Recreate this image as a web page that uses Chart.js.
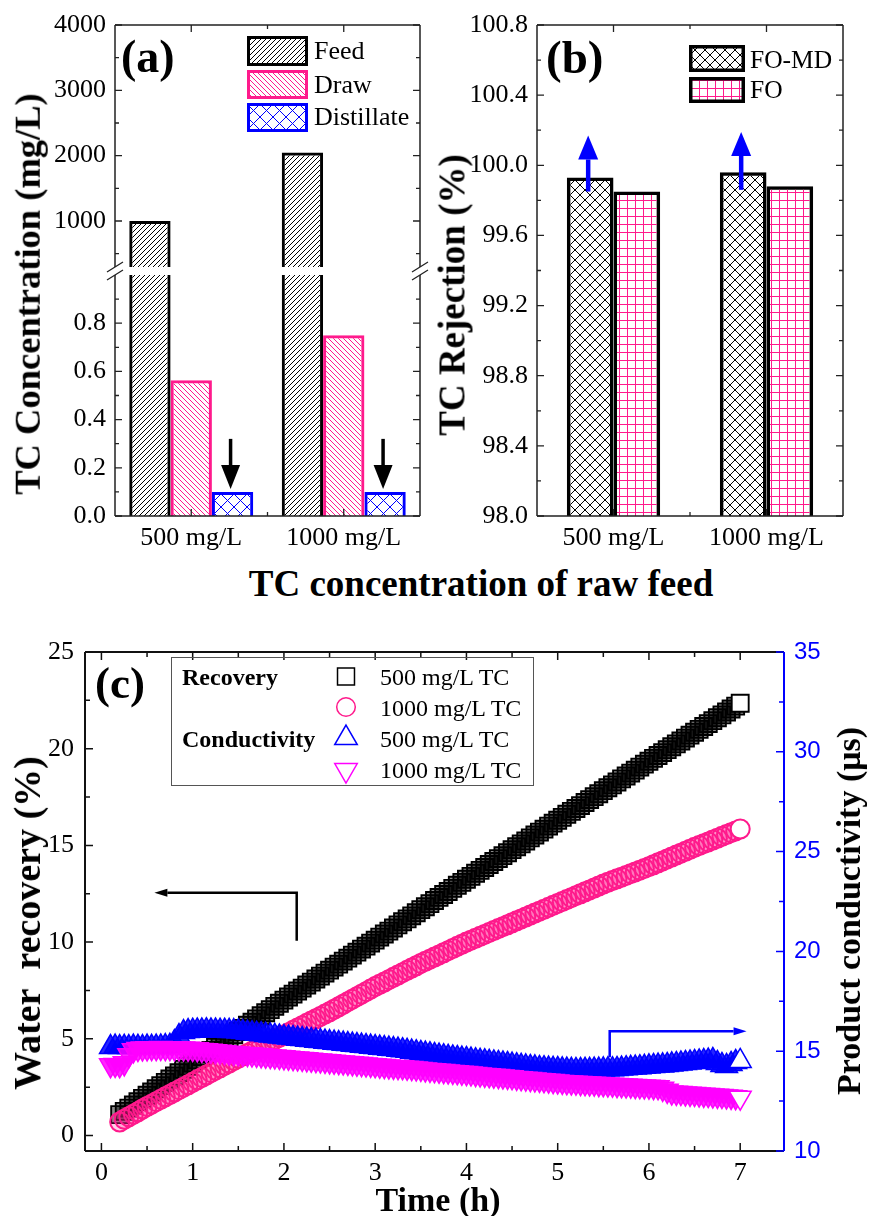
<!DOCTYPE html>
<html><head><meta charset="utf-8">
<script src="https://cdn.jsdelivr.net/npm/chart.js@4.4.1/dist/chart.umd.min.js"></script>
<style>
html,body{margin:0;padding:0;background:#fff;}
#page{position:relative;width:870px;height:1216px;overflow:hidden;background:#fff;}
canvas{position:absolute;}
.t{position:absolute;white-space:nowrap;line-height:1;font-family:'Liberation Serif','Times New Roman',serif;color:#000;}
.b{font-weight:bold;}
.L{transform:translateY(-50%);}
.C{transform:translate(-50%,-50%);}
.R{transform:translate(-50%,-50%) rotate(-90deg);}
</style></head><body><div id="page">
<canvas id="cA1" width="440" height="300" style="left:0;top:0;width:440px;height:300px"></canvas>
<canvas id="cA2" width="440" height="560" style="left:0;top:0;width:440px;height:560px"></canvas>
<canvas id="cB" width="435" height="560" style="left:435px;top:0;width:435px;height:560px"></canvas>
<canvas id="cC" width="870" height="596" style="left:0;top:620px;width:870px;height:596px"></canvas>

<div class="t b L" style="left:121px;top:57px;font-size:46px">(a)</div>
<div class="t b L" style="left:546px;top:57px;font-size:47px">(b)</div>
<div class="t b L" style="left:95px;top:683px;font-size:45px">(c)</div>

<div class="t L" style="left:314px;top:51px;font-size:26px">Feed</div>
<div class="t L" style="left:314px;top:85px;font-size:26px">Draw</div>
<div class="t L" style="left:314px;top:117px;font-size:26px">Distillate</div>
<div class="t L" style="left:750px;top:60px;font-size:25.5px">FO-MD</div>
<div class="t L" style="left:750px;top:90px;font-size:25.5px">FO</div>

<div class="t b C" style="left:481px;top:583px;font-size:37px">TC concentration of raw feed</div>
<div class="t b R" style="left:28px;top:294px;font-size:36.5px">TC Concentration (mg/L)</div>
<div class="t b R" style="left:452px;top:295px;font-size:37px">TC Rejection (%)</div>

<div style="position:absolute;left:171px;top:657px;width:363px;height:129px;box-sizing:border-box;border:1.5px solid #555;"></div>
<div class="t b L" style="left:182px;top:677px;font-size:24px">Recovery</div>
<div class="t b L" style="left:182px;top:739px;font-size:24px">Conductivity</div>
<div class="t L" style="left:380px;top:677px;font-size:24px">500 mg/L TC</div>
<div class="t L" style="left:380px;top:708px;font-size:24px">1000 mg/L TC</div>
<div class="t L" style="left:380px;top:739px;font-size:24px">500 mg/L TC</div>
<div class="t L" style="left:380px;top:770px;font-size:24px">1000 mg/L TC</div>

<div class="t b R" style="left:27px;top:923px;font-size:38px">Water&nbsp; recovery (%)</div>
<div class="t b R" style="left:849px;top:911px;font-size:34px">Product conductivity (μs)</div>
<div class="t b C" style="left:438px;top:1200px;font-size:34px">Time (h)</div>
</div>
<script>
// ---------- Panel (a) data ----------
const categories = ['500 mg/L', '1000 mg/L'];
const feed = [1000, 2050];
const drawConc = [0.563, 0.75];
const distillate = [0.1, 0.1];
const aUpperTicks = [1000, 2000, 3000, 4000];
const aUpperMinor = [500, 1500, 2500, 3500];
const aLowerTicks = [0, 0.2, 0.4, 0.6, 0.8];
const aLowerMinor = [0.1, 0.3, 0.5, 0.7, 0.9];
// ---------- Panel (b) data ----------
const foMd = [99.93, 99.96];
const fo = [99.85, 99.88];
const bTicks = [98.0, 98.4, 98.8, 99.2, 99.6, 100.0, 100.4, 100.8];
const bMinor = [98.2, 98.6, 99.0, 99.4, 99.8, 100.2, 100.6];
// ---------- Panel (c) data ----------
const timeH = [0.1,0.15,0.2,0.25,0.3,0.35,0.4,0.45,0.5,0.55,0.6,0.65,0.7,0.75,0.8,0.85,0.9,0.95,1.0,
1.05,1.1,1.15,1.2,1.25,1.3,1.35,1.4,1.45,1.5,1.55,1.6,1.65,1.7,1.75,1.8,1.85,1.9,1.95,2.0,
2.05,2.1,2.15,2.2,2.25,2.3,2.35,2.4,2.45,2.5,2.55,2.6,2.65,2.7,2.75,2.8,2.85,2.9,2.95,3.0,
3.05,3.1,3.15,3.2,3.25,3.3,3.35,3.4,3.45,3.5,3.55,3.6,3.65,3.7,3.75,3.8,3.85,3.9,3.95,4.0,
4.05,4.1,4.15,4.2,4.25,4.3,4.35,4.4,4.45,4.5,4.55,4.6,4.65,4.7,4.75,4.8,4.85,4.9,4.95,5.0,
5.05,5.1,5.15,5.2,5.25,5.3,5.35,5.4,5.45,5.5,5.55,5.6,5.65,5.7,5.75,5.8,5.85,5.9,5.95,6.0,
6.05,6.1,6.15,6.2,6.25,6.3,6.35,6.4,6.45,6.5,6.55,6.6,6.65,6.7,6.75,6.8,6.85,6.9,6.95,7.0];
const recovery500 = [null,null,1.08,1.25,1.42,1.58,1.75,1.92,2.08,2.25,2.42,2.58,2.75,2.92,3.08,3.25,3.42,3.58,3.75,
3.91,4.08,4.24,4.40,4.56,4.73,4.89,5.05,5.21,5.38,5.54,5.70,5.86,6.03,6.19,6.35,6.51,6.68,6.84,7.00,
7.16,7.31,7.47,7.62,7.78,7.93,8.09,8.24,8.40,8.55,8.71,8.86,9.02,9.17,9.33,9.48,9.64,9.79,9.95,10.10,
10.26,10.42,10.57,10.73,10.89,11.05,11.20,11.36,11.52,11.68,11.83,11.99,12.15,12.31,12.46,12.62,12.78,12.94,13.09,13.25,
13.40,13.56,13.71,13.86,14.01,14.17,14.32,14.47,14.62,14.78,14.93,15.08,15.23,15.39,15.54,15.69,15.84,16.00,16.15,16.30,
16.45,16.61,16.76,16.91,17.06,17.22,17.37,17.52,17.67,17.83,17.98,18.13,18.28,18.44,18.59,18.74,18.89,19.05,19.20,19.35,
19.50,19.65,19.80,19.95,20.10,20.25,20.40,20.55,20.70,20.85,21.00,21.15,21.30,21.45,21.60,21.75,21.90,22.05,22.20,22.35];
const recovery1000 = [null,null,0.70,0.84,0.97,1.10,1.23,1.37,1.50,1.62,1.75,1.87,2.00,2.12,2.25,2.37,2.50,2.62,2.75,
2.88,3.00,3.13,3.25,3.38,3.50,3.63,3.75,3.88,4.00,4.12,4.24,4.36,4.48,4.60,4.72,4.84,4.96,5.08,5.20,
5.32,5.44,5.56,5.68,5.80,5.92,6.04,6.16,6.28,6.40,6.53,6.66,6.79,6.92,7.05,7.18,7.31,7.44,7.57,7.70,
7.82,7.94,8.06,8.18,8.30,8.42,8.54,8.66,8.78,8.90,9.01,9.12,9.23,9.34,9.45,9.56,9.67,9.78,9.89,10.00,
10.10,10.20,10.30,10.40,10.50,10.60,10.70,10.80,10.90,11.00,11.10,11.20,11.30,11.40,11.50,11.60,11.70,11.80,11.90,12.00,
12.10,12.20,12.30,12.40,12.50,12.60,12.70,12.80,12.90,13.00,13.09,13.18,13.27,13.36,13.45,13.54,13.63,13.72,13.81,13.90,
14.00,14.10,14.20,14.30,14.40,14.50,14.60,14.70,14.80,14.90,14.99,15.09,15.18,15.28,15.37,15.47,15.56,15.66,15.75,15.85];
const cond500 = [15.20,15.22,15.20,15.21,15.20,15.22,15.21,15.20,15.22,15.21,15.22,15.23,15.25,15.26,15.45,15.75,15.95,16.00,16.02,
16.03,16.03,16.04,16.03,16.03,16.02,16.02,16.01,16.00,15.98,15.95,15.92,15.89,15.87,15.84,15.81,15.78,15.76,15.73,15.70,
15.68,15.65,15.62,15.60,15.57,15.55,15.52,15.50,15.47,15.45,15.42,15.40,15.37,15.35,15.32,15.30,15.27,15.25,15.22,15.20,
15.17,15.15,15.12,15.10,15.07,15.04,15.01,14.97,14.94,14.90,14.87,14.84,14.80,14.77,14.74,14.71,14.68,14.65,14.62,14.60,
14.57,14.54,14.51,14.49,14.46,14.43,14.40,14.38,14.35,14.32,14.29,14.26,14.23,14.20,14.18,14.15,14.14,14.12,14.11,14.10,
14.08,14.07,14.06,14.05,14.05,14.06,14.06,14.07,14.07,14.08,14.09,14.09,14.10,14.12,14.14,14.16,14.17,14.19,14.21,14.23,
14.25,14.27,14.28,14.30,14.33,14.35,14.38,14.40,14.43,14.45,14.48,14.50,14.52,14.55,14.40,14.30,14.25,14.35,14.45,14.50];
const cond1000 = [14.30,14.32,14.30,14.40,14.80,15.05,15.12,15.14,15.15,15.16,15.16,15.17,15.16,15.16,15.15,15.15,15.14,15.13,15.12,
15.10,15.07,15.05,15.03,15.00,14.98,14.96,14.93,14.91,14.89,14.87,14.86,14.84,14.82,14.80,14.78,14.76,14.74,14.72,14.70,
14.68,14.66,14.64,14.62,14.60,14.58,14.56,14.54,14.52,14.50,14.48,14.46,14.44,14.42,14.40,14.38,14.36,14.34,14.32,14.30,
14.28,14.26,14.24,14.22,14.21,14.20,14.18,14.16,14.14,14.12,14.09,14.07,14.05,14.03,14.01,13.99,13.97,13.95,13.93,13.91,
13.89,13.86,13.84,13.82,13.80,13.78,13.76,13.74,13.72,13.70,13.67,13.65,13.63,13.61,13.59,13.57,13.55,13.53,13.51,13.49,
13.47,13.45,13.44,13.43,13.41,13.40,13.39,13.38,13.36,13.35,13.34,13.33,13.31,13.30,13.29,13.28,13.26,13.25,13.24,13.23,
13.21,13.20,13.12,13.02,12.94,12.92,12.91,12.89,12.87,12.86,12.84,12.82,12.81,12.79,12.77,12.76,12.74,12.72,12.70,12.68];
const cXTicks = [0, 1, 2, 3, 4, 5, 6, 7];
const cXMinor = [0.5, 1.5, 2.5, 3.5, 4.5, 5.5, 6.5];
const cYTicks = [0, 5, 10, 15, 20, 25];
const cYMinor = [2.5, 7.5, 12.5, 17.5, 22.5];
const cY2Ticks = [10, 15, 20, 25, 30, 35];
const cY2Minor = [12.5, 17.5, 22.5, 27.5, 32.5];

// ---------- styles ----------
const SERIF = "'Liberation Serif','Times New Roman',serif";
const SANS = "'Liberation Sans',Arial,sans-serif";
const PINK = '#FF1A8C', MAGENTA = '#FF00FF', BLUE = '#0000FF', AX = '#222';

function makePattern(kind, color, s, lw) {
  const c = document.createElement('canvas'); c.width = s; c.height = s;
  const g = c.getContext('2d'); g.strokeStyle = color; g.lineWidth = lw;
  g.beginPath();
  if (kind === 'fwd' || kind === 'cross') { for (let k = -1; k <= 1; k++) { g.moveTo(k * s, s); g.lineTo(k * s + s, 0); } }
  if (kind === 'back' || kind === 'cross') { for (let k = -1; k <= 1; k++) { g.moveTo(k * s, 0); g.lineTo(k * s + s, s); } }
  if (kind === 'grid') { g.moveTo(0, 0.5); g.lineTo(s, 0.5); g.moveTo(0.5, 0); g.lineTo(0.5, s); }
  g.stroke();
  return g.createPattern(c, 'repeat');
}
const patFeed = makePattern('fwd', '#000', 5, 1);
const patDraw = makePattern('back', PINK, 5, 1);
const patDist = makePattern('cross', BLUE, 13, 1);
const patFoMd = makePattern('cross', '#000', 10, 1);
const patFo = makePattern('grid', PINK, 8, 1);

const fixedTicks = vals => s => { s.ticks = vals.map(v => ({ value: v })); };
const fixW = w => s => { s.width = w; };
const fixH = h => s => { s.height = h; };

function frame(ctx, a, sides, color, lw) {
  ctx.save(); ctx.strokeStyle = color; ctx.lineWidth = lw; ctx.beginPath();
  if (sides.includes('left')) { ctx.moveTo(a.left, a.top); ctx.lineTo(a.left, a.bottom); }
  if (sides.includes('right')) { ctx.moveTo(a.right, a.top); ctx.lineTo(a.right, a.bottom); }
  if (sides.includes('top')) { ctx.moveTo(a.left, a.top); ctx.lineTo(a.right, a.top); }
  if (sides.includes('bottom')) { ctx.moveTo(a.left, a.bottom); ctx.lineTo(a.right, a.bottom); }
  ctx.stroke(); ctx.restore();
}
function ticks(ctx, scale, vals, len, sides, color, lw) {
  const a = scale.chart.chartArea;
  ctx.save(); ctx.strokeStyle = color; ctx.lineWidth = lw || 1.3; ctx.beginPath();
  vals.forEach(v => {
    const p = scale.getPixelForValue(v);
    sides.forEach(sd => {
      if (sd === 'left') { ctx.moveTo(a.left, p); ctx.lineTo(a.left + len, p); }
      else if (sd === 'right') { ctx.moveTo(a.right, p); ctx.lineTo(a.right - len, p); }
      else if (sd === 'top') { ctx.moveTo(p, a.top); ctx.lineTo(p, a.top + len); }
      else { ctx.moveTo(p, a.bottom); ctx.lineTo(p, a.bottom - len); }
    });
  });
  ctx.stroke(); ctx.restore();
}
function arrow(ctx, pts, color, lw, headLen, headW) {
  ctx.save(); ctx.strokeStyle = color; ctx.fillStyle = color; ctx.lineWidth = lw;
  const n = pts.length, [x1, y1] = pts[n - 2], [x2, y2] = pts[n - 1];
  const ang = Math.atan2(y2 - y1, x2 - x1);
  const bx = x2 - headLen * Math.cos(ang), by = y2 - headLen * Math.sin(ang);
  ctx.beginPath(); ctx.moveTo(pts[0][0], pts[0][1]);
  for (let i = 1; i < n - 1; i++) ctx.lineTo(pts[i][0], pts[i][1]);
  ctx.lineTo(bx, by); ctx.stroke();
  ctx.beginPath(); ctx.moveTo(x2, y2);
  ctx.lineTo(bx + headW / 2 * Math.sin(ang), by - headW / 2 * Math.cos(ang));
  ctx.lineTo(bx - headW / 2 * Math.sin(ang), by + headW / 2 * Math.cos(ang));
  ctx.closePath(); ctx.fill(); ctx.restore();
}
function swatch(ctx, x, y, w, h, pat, border, bw) {
  ctx.save(); ctx.fillStyle = '#fff'; ctx.fillRect(x, y, w, h);
  ctx.fillStyle = pat; ctx.fillRect(x, y, w, h);
  ctx.strokeStyle = border; ctx.lineWidth = bw; ctx.strokeRect(x + bw / 2, y + bw / 2, w - bw, h - bw);
  ctx.restore();
}
const tickFont = { family: SERIF, size: 26 };
const baseOpts = { responsive: false, animation: false, events: [], plugins: { legend: { display: false }, tooltip: { enabled: false } } };
const hiddenGrid = { display: false, drawTicks: false };

// ---------- Panel (a) upper ----------
new Chart(document.getElementById('cA1'), {
  type: 'bar',
  data: { labels: categories, datasets: [
    { data: feed, backgroundColor: patFeed, borderColor: '#000', borderWidth: 3, clip: 0, categoryPercentage: 0.813, barPercentage: 1 },
    { data: drawConc, backgroundColor: patDraw, borderColor: PINK, borderWidth: 3, clip: 0, categoryPercentage: 0.813, barPercentage: 1 },
    { data: distillate, backgroundColor: patDist, borderColor: BLUE, borderWidth: 3, clip: 0, categoryPercentage: 0.813, barPercentage: 1 }] },
  options: Object.assign({}, baseOpts, {
    layout: { padding: { left: 15, top: 25, right: 20, bottom: 33 } },
    scales: {
      x: { display: false, offset: true },
      y: { min: 296, max: 4000, afterBuildTicks: fixedTicks(aUpperTicks), afterFit: fixW(100), grid: hiddenGrid, border: { display: false },
           ticks: { font: tickFont, color: '#000', padding: 9, callback: v => String(v) } }
    }
  }),
  plugins: [{ id: 'decoA1', afterDraw(chart) {
    const ctx = chart.ctx, a = chart.chartArea, x = chart.scales.x, y = chart.scales.y;
    frame(ctx, a, ['left', 'right', 'top'], AX, 1.5);
    ticks(ctx, y, aUpperTicks, 7, ['left', 'right'], AX);
    ticks(ctx, y, aUpperMinor, 4, ['left', 'right'], AX);
    ticks(ctx, x, [0, 1], 7, ['top'], AX);
    ticks(ctx, x, [0.5], 4, ['top'], AX);
    swatch(ctx, 247, 36, 61, 30, patFeed, '#000', 3);
    swatch(ctx, 247, 70, 61, 29, patDraw, PINK, 3);
    swatch(ctx, 247, 103, 61, 29, patDist, BLUE, 3);
  } }]
});

// ---------- Panel (a) lower ----------
new Chart(document.getElementById('cA2'), {
  type: 'bar',
  data: { labels: categories, datasets: [
    { data: feed, backgroundColor: patFeed, borderColor: '#000', borderWidth: 3, clip: 0, categoryPercentage: 0.813, barPercentage: 1 },
    { data: drawConc, backgroundColor: patDraw, borderColor: PINK, borderWidth: 3, clip: 0, categoryPercentage: 0.813, barPercentage: 1 },
    { data: distillate, backgroundColor: patDist, borderColor: BLUE, borderWidth: 3, clip: 0, categoryPercentage: 0.813, barPercentage: 1 }] },
  options: Object.assign({}, baseOpts, {
    layout: { padding: { left: 15, top: 275, right: 20, bottom: 4 } },
    scales: {
      x: { offset: true, afterFit: fixH(40), grid: hiddenGrid, border: { display: false }, ticks: { font: tickFont, color: '#000', padding: 7 } },
      y: { min: 0, max: 1.0, afterBuildTicks: fixedTicks(aLowerTicks), afterFit: fixW(100), grid: hiddenGrid, border: { display: false },
           ticks: { font: tickFont, color: '#000', padding: 9, callback: v => v.toFixed(1) } }
    }
  }),
  plugins: [{ id: 'decoA2', afterDraw(chart) {
    const ctx = chart.ctx, a = chart.chartArea, x = chart.scales.x, y = chart.scales.y;
    frame(ctx, a, ['left', 'right', 'bottom'], AX, 1.5);
    ticks(ctx, y, aLowerTicks, 7, ['left', 'right'], AX);
    ticks(ctx, y, aLowerMinor, 4, ['left', 'right'], AX);
    ticks(ctx, x, [0, 1], 7, ['bottom'], AX);
    ticks(ctx, x, [0.5], 4, ['bottom'], AX);
    ctx.save(); ctx.strokeStyle = AX; ctx.lineWidth = 1.3; ctx.beginPath();
    [a.left, a.right].forEach(x0 => [a.top - 8, a.top].forEach(y0 => { ctx.moveTo(x0 - 8, y0 + 5); ctx.lineTo(x0 + 8, y0 - 5); }));
    ctx.stroke(); ctx.restore();
    chart.getDatasetMeta(2).data.forEach(el => {
      arrow(ctx, [[el.x - 2, y.getPixelForValue(0.32)], [el.x - 2, y.getPixelForValue(0.112)]], '#000', 3.5, 24, 19);
    });
  } }]
});

// ---------- Panel (b) ----------
new Chart(document.getElementById('cB'), {
  type: 'bar',
  data: { labels: categories, datasets: [
    { data: foMd, backgroundColor: patFoMd, borderColor: '#000', borderWidth: 3.5, clip: 0, categoryPercentage: 0.61, barPercentage: 1 },
    { data: fo, backgroundColor: patFo, borderColor: '#000', borderWidth: 3.5, clip: 0, categoryPercentage: 0.61, barPercentage: 1 }] },
  options: Object.assign({}, baseOpts, {
    layout: { padding: { left: 12, top: 25, right: 27, bottom: 4 } },
    scales: {
      x: { offset: true, afterFit: fixH(40), grid: hiddenGrid, border: { display: false }, ticks: { font: tickFont, color: '#000', padding: 7 } },
      y: { min: 98.0, max: 100.8, afterBuildTicks: fixedTicks(bTicks), afterFit: fixW(90), grid: hiddenGrid, border: { display: false },
           ticks: { font: tickFont, color: '#000', padding: 9, callback: v => v.toFixed(1) } }
    }
  }),
  plugins: [{ id: 'decoB', afterDraw(chart) {
    const ctx = chart.ctx, a = chart.chartArea, x = chart.scales.x, y = chart.scales.y;
    frame(ctx, a, ['left', 'right', 'top', 'bottom'], AX, 1.5);
    ticks(ctx, y, bTicks, 7, ['left', 'right'], AX);
    ticks(ctx, y, bMinor, 4, ['left', 'right'], AX);
    ticks(ctx, x, [0, 1], 7, ['top', 'bottom'], AX);
    ticks(ctx, x, [0.5], 4, ['top', 'bottom'], AX);
    swatch(ctx, 254, 45, 56, 27, patFoMd, '#000', 3.5);
    swatch(ctx, 254, 77, 56, 26, patFo, '#000', 3.5);
    const arr = [[99.85, 100.17], [99.86, 100.19]];
    chart.getDatasetMeta(0).data.forEach((el, i) => {
      arrow(ctx, [[el.x - 2, y.getPixelForValue(arr[i][0])], [el.x - 2, y.getPixelForValue(arr[i][1])]], BLUE, 4.5, 24, 20);
    });
  } }]
});

// ---------- Panel (c) ----------
function pts(vals) { return timeH.map((t, i) => ({ x: t, y: vals[i] })).filter(p => p.y !== null); }
function series(vals, axis, style, rot, r, color, fill, bw, order) {
  const d = pts(vals), n = d.length;
  return { data: d, yAxisID: axis, pointStyle: style, pointRotation: rot, pointRadius: r, pointBorderWidth: bw,
    pointBorderColor: color, pointBackgroundColor: c => c.dataIndex === n - 1 ? '#fff' : fill, order: order, showLine: false };
}
new Chart(document.getElementById('cC'), {
  type: 'scatter',
  data: { datasets: [
    series(recovery500, 'y', 'rect', 0, 12, '#000', 'rgba(0,0,0,0.45)', 1.9, 4),
    series(recovery1000, 'y', 'circle', 0, 9.5, PINK, 'rgba(255,26,140,0.2)', 2, 3),
    series(cond500, 'y2', 'triangle', 0, 12.7, BLUE, 'rgba(0,0,255,0.85)', 1.5, 2),
    series(cond1000, 'y2', 'triangle', 180, 12.7, MAGENTA, 'rgba(255,0,255,0.85)', 1.5, 1)] },
  options: Object.assign({}, baseOpts, {
    layout: { padding: { left: 15, top: 32, right: 16, bottom: 15 } },
    scales: {
      x: { type: 'linear', min: -0.18, max: 7.48, afterBuildTicks: fixedTicks(cXTicks), afterFit: fixH(50), grid: hiddenGrid, border: { display: false },
           ticks: { font: tickFont, color: '#000', padding: 7, callback: v => String(v) } },
      y: { position: 'left', min: -0.8, max: 25, afterBuildTicks: fixedTicks(cYTicks), afterFit: fixW(70), grid: hiddenGrid, border: { display: false },
           ticks: { font: tickFont, color: '#000', padding: 11, callback: v => String(v) } },
      y2: { position: 'right', min: 10, max: 35, afterBuildTicks: fixedTicks(cY2Ticks), afterFit: fixW(70), grid: hiddenGrid, border: { display: false },
           ticks: { font: { family: SANS, size: 24 }, color: BLUE, padding: 10, callback: v => String(v) } }
    }
  }),
  plugins: [{ id: 'decoC', afterDraw(chart) {
    const ctx = chart.ctx, a = chart.chartArea, x = chart.scales.x, y = chart.scales.y, y2 = chart.scales.y2;
    frame(ctx, a, ['left', 'top', 'bottom'], '#111', 2);
    frame(ctx, a, ['right'], BLUE, 2);
    ticks(ctx, x, cXTicks, 8, ['bottom', 'top'], '#111', 1.5);
    ticks(ctx, x, cXMinor, 5, ['bottom', 'top'], '#111', 1.5);
    ticks(ctx, y, cYTicks, 8, ['left'], '#111', 1.5);
    ticks(ctx, y, cYMinor, 5, ['left'], '#111', 1.5);
    ticks(ctx, y2, cY2Ticks, 8, ['right'], BLUE, 1.5);
    ticks(ctx, y2, cY2Minor, 5, ['right'], BLUE, 1.5);
    arrow(ctx, [[x.getPixelForValue(2.14), y.getPixelForValue(10.07)], [x.getPixelForValue(2.14), y.getPixelForValue(12.55)],
                [x.getPixelForValue(0.58), y.getPixelForValue(12.55)]], '#000', 2.5, 13, 8);
    arrow(ctx, [[x.getPixelForValue(5.57), y2.getPixelForValue(14.7)], [x.getPixelForValue(5.57), y2.getPixelForValue(16.0)],
                [x.getPixelForValue(7.07), y2.getPixelForValue(16.0)]], BLUE, 2.5, 13, 8);
    const H = Chart.helpers;
    const mk = (style, rot, r, color, px, py) => {
      ctx.save(); ctx.strokeStyle = color; ctx.fillStyle = 'rgba(0,0,0,0)'; ctx.lineWidth = 1.5;
      H.drawPoint(ctx, { pointStyle: style, rotation: rot, radius: r, borderWidth: 1.5 }, px, py);
      ctx.restore();
    };
    mk('rect', 0, 12, '#000', 346, 56.5);
    mk('circle', 0, 9.3, PINK, 346, 87);
    mk('triangle', 0, 13, BLUE, 346, 118);
    mk('triangle', 180, 13, MAGENTA, 346, 150);
  } }]
});
</script>
</body></html>
